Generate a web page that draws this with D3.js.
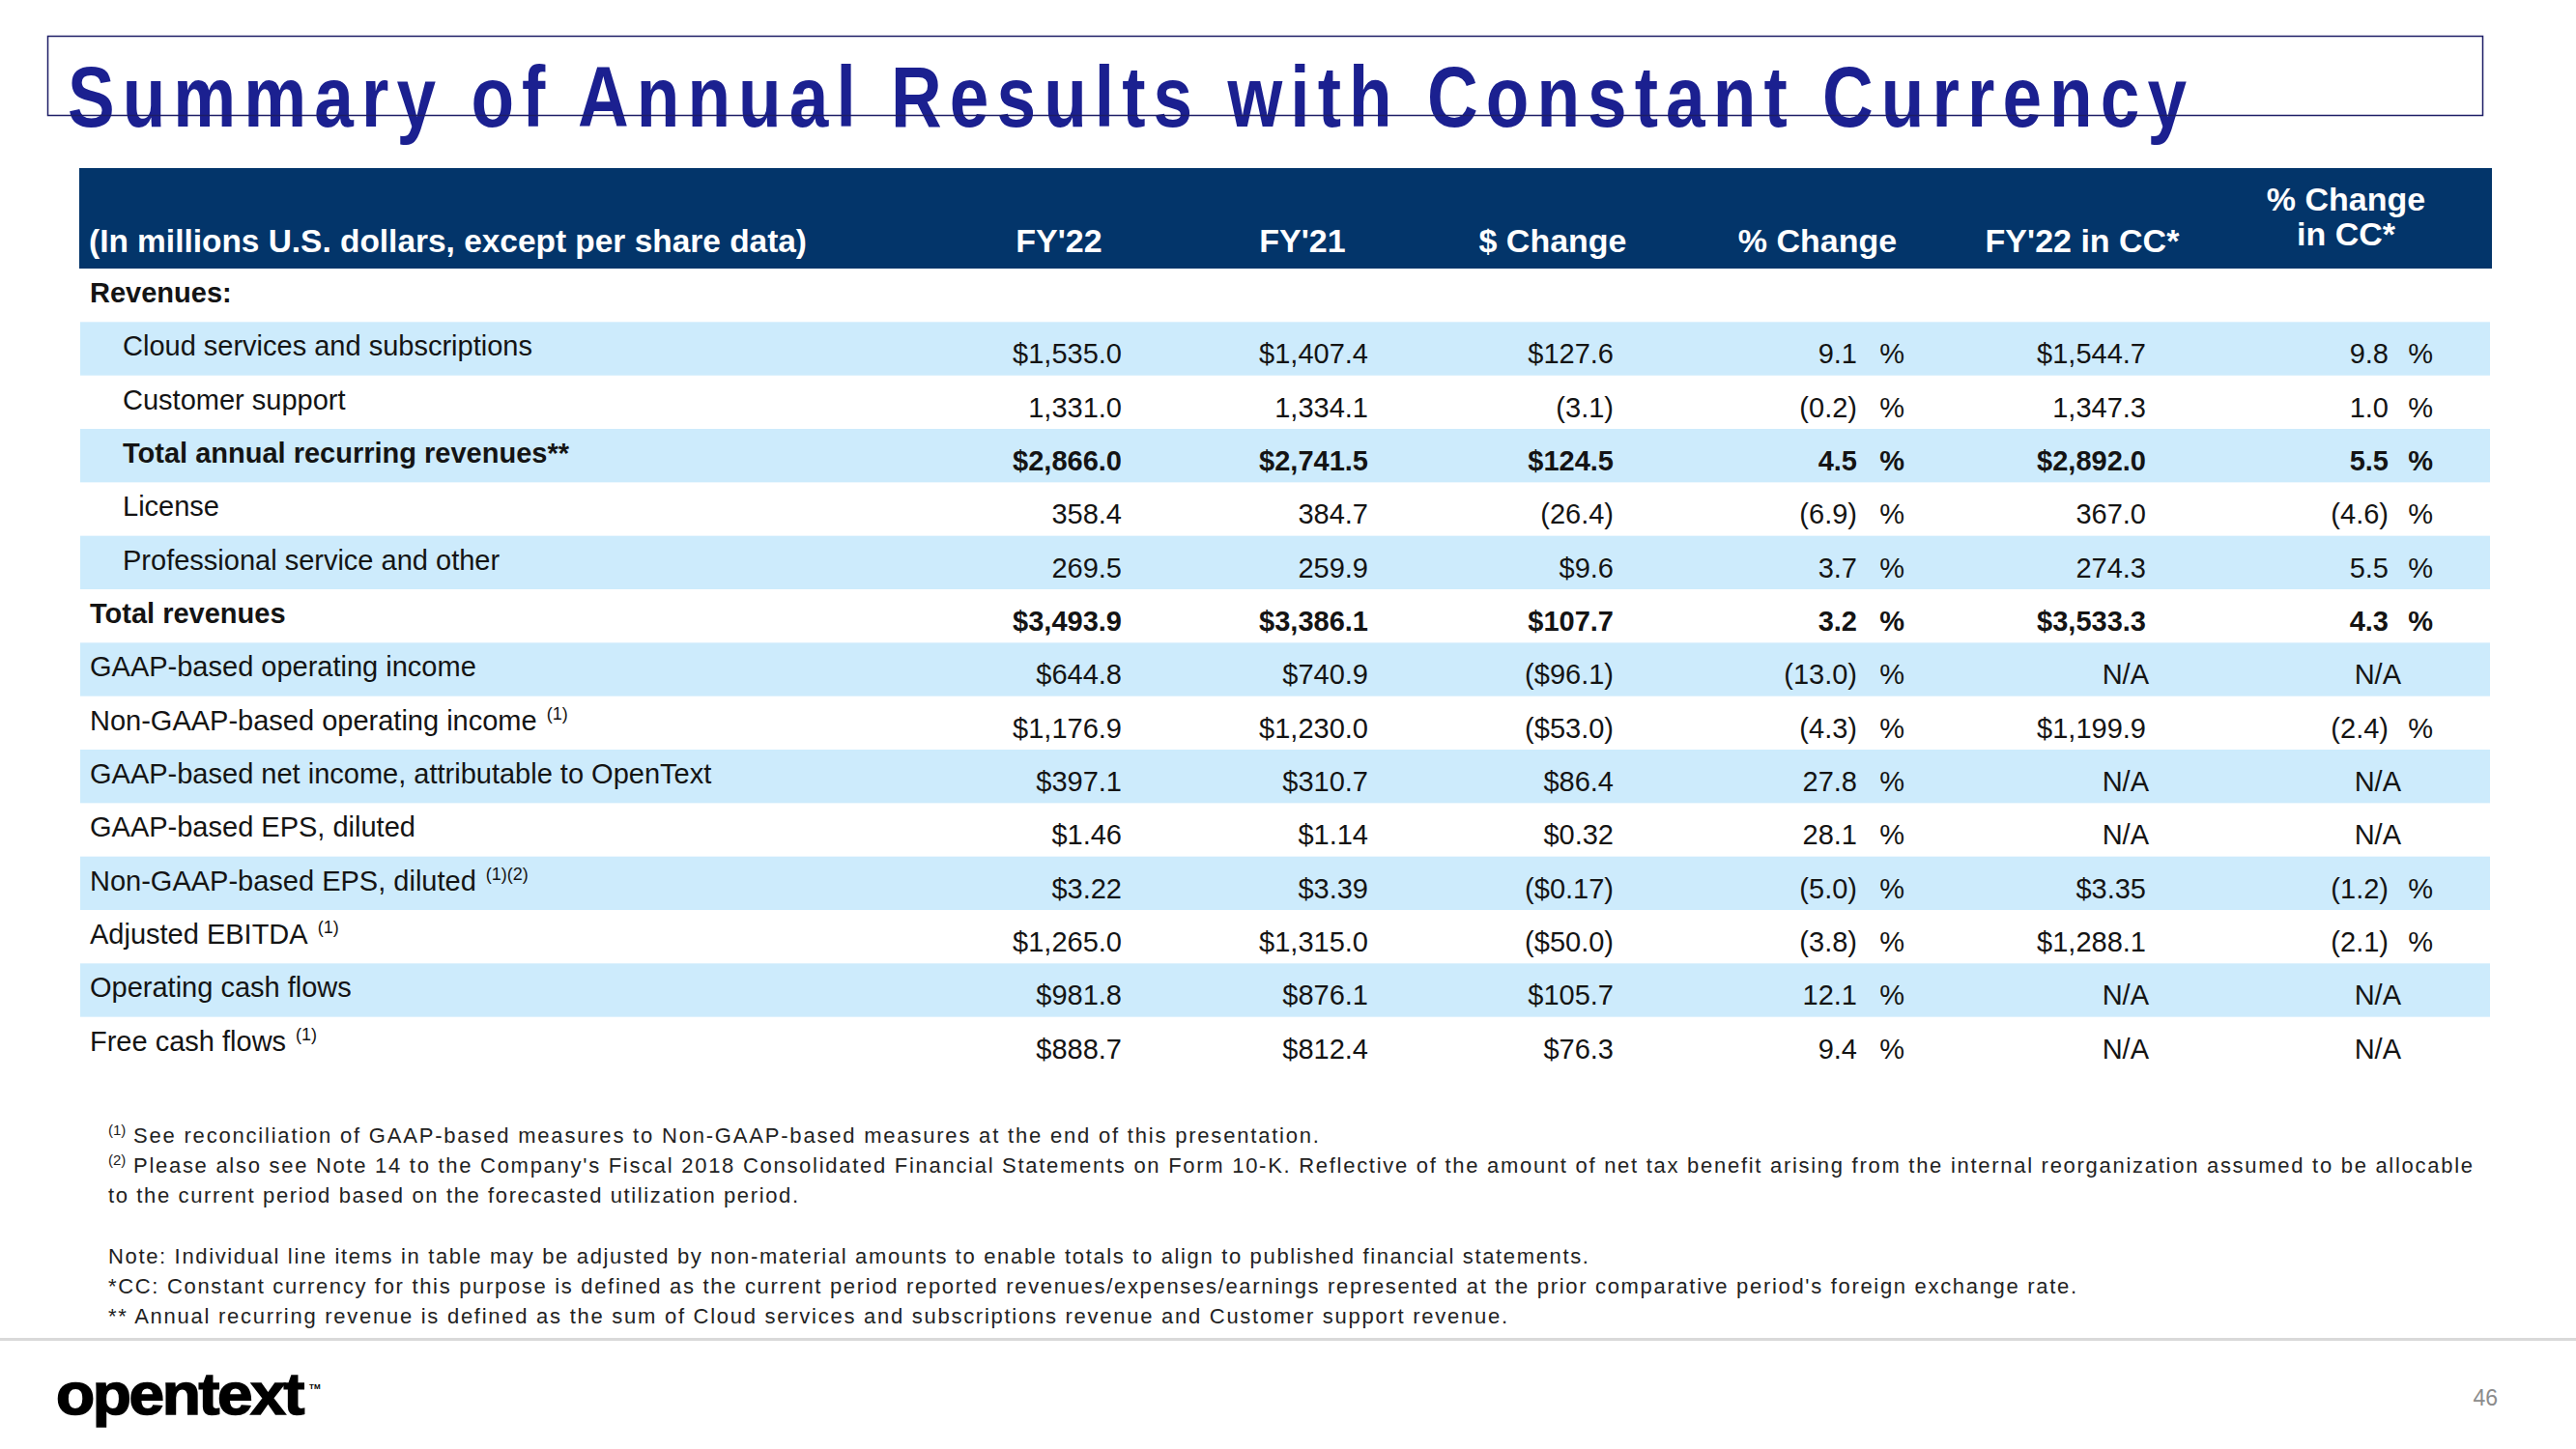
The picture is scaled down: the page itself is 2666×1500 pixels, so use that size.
<!DOCTYPE html>
<html><head><meta charset="utf-8">
<script src="https://cdn.jsdelivr.net/npm/d3@7"></script>
<style>
body{margin:0;background:#fff;}
svg{display:block;}
text{font-family:"Liberation Sans",Arial,Helvetica,sans-serif;white-space:pre;}
</style>
</head><body>
<svg id="c" width="2666" height="1500"></svg>
<script>
// ---------------- DATA ----------------
const title = "Summary of Annual Results with Constant Currency";
const stubHeader = "(In millions U.S. dollars, except per share data)";
const columns = ["FY'22", "FY'21", "$ Change", "% Change", "FY'22 in CC*", "% Change in CC*"];
const columnHeaderLines = [["FY'22"], ["FY'21"], ["$ Change"], ["% Change"], ["FY'22 in CC*"], ["% Change", "in CC*"]];

const rowLabels = [
  "Revenues:",
  "Cloud services and subscriptions",
  "Customer support",
  "Total annual recurring revenues**",
  "License",
  "Professional service and other",
  "Total revenues",
  "GAAP-based operating income",
  "Non-GAAP-based operating income",
  "GAAP-based net income, attributable to OpenText",
  "GAAP-based EPS, diluted",
  "Non-GAAP-based EPS, diluted",
  "Adjusted EBITDA",
  "Operating cash flows",
  "Free cash flows"
];
const rowNotes = ["", "", "", "", "", "", "", "", "(1)", "", "", "(1)(2)", "(1)", "", "(1)"];
const rowBold = [true, false, false, true, false, false, true, false, false, false, false, false, false, false, false];
const rowIndent = [false, true, true, true, true, true, false, false, false, false, false, false, false, false, false];
const rowDecimals = [1, 1, 1, 1, 1, 1, 1, 1, 1, 1, 2, 2, 1, 1, 1];
// "$" shown on FY'22 / FY'21 / FY'22 in CC values, and on $ Change values
const rowDollarFY = [false, true, false, true, false, false, true, true, true, true, true, true, true, true, true];
const rowDollarChange = [false, true, false, true, false, true, true, true, true, true, true, true, true, true, true];

const fy22 = [null, 1535.0, 1331.0, 2866.0, 358.4, 269.5, 3493.9, 644.8, 1176.9, 397.1, 1.46, 3.22, 1265.0, 981.8, 888.7];
const fy21 = [null, 1407.4, 1334.1, 2741.5, 384.7, 259.9, 3386.1, 740.9, 1230.0, 310.7, 1.14, 3.39, 1315.0, 876.1, 812.4];
const dollarChange = [null, 127.6, -3.1, 124.5, -26.4, 9.6, 107.7, -96.1, -53.0, 86.4, 0.32, -0.17, -50.0, 105.7, 76.3];
const pctChange = [null, 9.1, -0.2, 4.5, -6.9, 3.7, 3.2, -13.0, -4.3, 27.8, 28.1, -5.0, -3.8, 12.1, 9.4];
const fy22CC = [null, 1544.7, 1347.3, 2892.0, 367.0, 274.3, 3533.3, "N/A", 1199.9, "N/A", "N/A", 3.35, 1288.1, "N/A", "N/A"];
const pctChangeCC = [null, 9.8, 1.0, 5.5, -4.6, 5.5, 4.3, "N/A", -2.4, "N/A", "N/A", -1.2, -2.1, "N/A", "N/A"];

const footnotes = [
  {sup: "(1)", text: "See reconciliation of GAAP-based measures to Non-GAAP-based measures at the end of this presentation."},
  {sup: "(2)", text: "Please also see Note 14 to the Company's Fiscal 2018 Consolidated Financial Statements on Form 10-K. Reflective of the amount of net tax benefit arising from the internal reorganization assumed to be allocable"},
  {sup: "", text: "to the current period based on the forecasted utilization period."},
  {sup: "", text: ""},
  {sup: "", text: "Note: Individual line items in table may be adjusted by non-material amounts to enable totals to align to published financial statements."},
  {sup: "", text: "*CC: Constant currency for this purpose is defined as the current period reported revenues/expenses/earnings represented at the prior comparative period's foreign exchange rate."},
  {sup: "", text: "** Annual recurring revenue is defined as the sum of Cloud services and subscriptions revenue and Customer support revenue."}
];
const pageNumber = "46";
const logoText = "opentext";

// ---------------- LAYOUT / STYLE ----------------
const W = 2666, H = 1500;
const svg = d3.select("#c");
const navy = "#03356a", band = "#cdebfc", titleBlue = "#1b2090", ink = "#141414";

// Title
const tg = svg.append("g").attr("transform", "translate(70,131) scale(0.82,1)");
tg.append("text").text(title)
  .attr("font-size", 89).attr("font-weight", "bold").attr("fill", titleBlue)
  .attr("textLength", 2193 / 0.82).attr("lengthAdjust", "spacing");
svg.append("rect").attr("x", 49.5).attr("y", 37.5).attr("width", 2520).attr("height", 82)
  .attr("fill", "none").attr("stroke", "#1d1d66").attr("stroke-width", 1.5);

// Scales
const y = d3.scaleBand().domain(d3.range(rowLabels.length)).range([278, 1108]).padding(0);
const colRight = d3.scaleOrdinal().domain(columns).range([1161, 1416, 1670, 1922, 2221, 2472]);
const colCenter = d3.scaleOrdinal().domain(columns).range([1096, 1348, 1607, 1881, 2155, 2428]);
const pctRight = d3.scaleOrdinal().domain(["% Change", "% Change in CC*"]).range([1971, 2518]);
const naRight = d3.scaleOrdinal().domain(["FY'22 in CC*", "% Change in CC*"]).range([2224, 2485]);

// Header bar
svg.append("rect").attr("x", 82).attr("y", 174).attr("width", 2497).attr("height", 104).attr("fill", navy);
svg.append("text").text(stubHeader).attr("x", 92).attr("y", 261)
  .attr("font-size", 34).attr("font-weight", "bold").attr("fill", "#fff")
  .attr("textLength", 743).attr("lengthAdjust", "spacingAndGlyphs");
columns.forEach((c, i) => {
  const lines = columnHeaderLines[i];
  lines.forEach((ln, j) => {
    svg.append("text").text(ln)
      .attr("x", colCenter(c)).attr("y", lines.length === 1 ? 261 : 218 + j * 36)
      .attr("text-anchor", "middle").attr("font-size", 34).attr("font-weight", "bold").attr("fill", "#fff");
  });
});

// Row bands
svg.append("g").selectAll("rect").data(d3.range(rowLabels.length).filter(i => i % 2 === 1)).join("rect")
  .attr("x", 83).attr("width", 2494).attr("y", i => y(i)).attr("height", y.bandwidth()).attr("fill", band);

// Labels
const lab = svg.append("g").selectAll("text").data(rowLabels).join("text")
  .attr("x", (d, i) => rowIndent[i] ? 127 : 93)
  .attr("y", (d, i) => y(i) + 35)
  .attr("font-size", 29).attr("fill", ink)
  .attr("font-weight", (d, i) => rowBold[i] ? "bold" : "normal");
lab.append("tspan").text(d => d);
lab.each(function(d, i) {
  if (!rowNotes[i]) return;
  const t = d3.select(this);
  t.append("tspan").text("  ").attr("font-size", 18);
  t.append("tspan").text(rowNotes[i]).attr("font-size", 18).attr("dy", -11);
});

// Cell formatting
function fmtNum(v, dec, dollar) {
  if (v === "N/A") return "N/A";
  let s = d3.format(",." + dec + "f")(Math.abs(v));
  if (dollar) s = "$" + s;
  if (v < 0) s = "(" + s + ")";
  return s;
}
const colValues = [fy22, fy21, dollarChange, pctChange, fy22CC, pctChangeCC];
const cells = [];
rowLabels.forEach((r, i) => {
  if (fy22[i] === null) return;
  columns.forEach((c, j) => {
    const v = colValues[j][i];
    const isPct = (j === 3 || j === 5);
    const dollar = (j === 2) ? rowDollarChange[i] : rowDollarFY[i];
    const txt = isPct ? fmtNum(v, 1, false) : fmtNum(v, rowDecimals[i], dollar);
    let x = colRight(c);
    if (v === "N/A") x = naRight(c);
    cells.push({row: i, col: c, txt, x, pct: isPct && v !== "N/A"});
  });
});
const cg = svg.append("g");
cg.selectAll("text.v").data(cells).join("text").attr("class", "v")
  .attr("x", d => d.x).attr("y", d => y(d.row) + 43)
  .attr("text-anchor", "end").attr("font-size", 29).attr("fill", ink)
  .attr("font-weight", d => rowBold[d.row] ? "bold" : "normal")
  .text(d => d.txt);
cg.selectAll("text.p").data(cells.filter(d => d.pct)).join("text").attr("class", "p")
  .attr("x", d => pctRight(d.col)).attr("y", d => y(d.row) + 43)
  .attr("text-anchor", "end").attr("font-size", 29).attr("fill", ink)
  .attr("font-weight", d => rowBold[d.row] ? "bold" : "normal")
  .text("%");

// Footnotes
const fnY = [1183, 1214, 1245, 1276, 1308, 1339, 1370];
const fnEnd = [1365, 2559, 826, 0, 1644, 2149, 1560];
const fg = svg.append("g");
footnotes.forEach((f, i) => {
  if (!f.text) return;
  const x0 = f.sup ? 138 : 112;
  if (f.sup) {
    fg.append("text").text(f.sup).attr("x", 112).attr("y", fnY[i] - 8)
      .attr("font-size", 15).attr("fill", "#222");
  }
  fg.append("text").text(f.text).attr("x", x0).attr("y", fnY[i])
    .attr("font-size", 22).attr("fill", "#222")
    .attr("textLength", fnEnd[i] - x0).attr("lengthAdjust", "spacing");
});

// Footer separator
svg.append("rect").attr("x", 0).attr("y", 1385).attr("width", W).attr("height", 3).attr("fill", "#d9d9d9");

// Logo
svg.append("text").text(logoText).attr("x", 58).attr("y", 1464)
  .attr("font-size", 62).attr("font-weight", "bold").attr("fill", "#000")
  .attr("stroke", "#000").attr("stroke-width", 1.6).attr("letter-spacing", -2.2)
  .attr("textLength", 255).attr("lengthAdjust", "spacingAndGlyphs");
svg.append("text").text("TM").attr("x", 320).attr("y", 1438)
  .attr("font-size", 8).attr("font-weight", "bold").attr("fill", "#000");

// Page number
svg.append("text").text(pageNumber).attr("x", 2585).attr("y", 1455)
  .attr("text-anchor", "end").attr("font-size", 23).attr("fill", "#8c8c8c");
</script>
</body></html>
